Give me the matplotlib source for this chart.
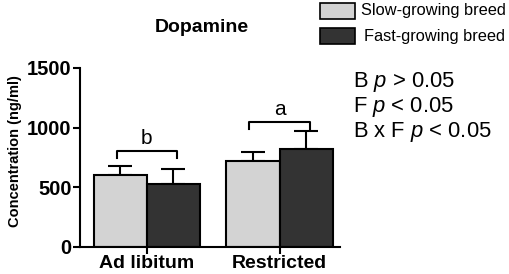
import matplotlib
matplotlib.use("Agg")
import matplotlib.pyplot as plt
from matplotlib.patches import Rectangle

plt.rcParams['font.family'] = ['Liberation Sans', 'DejaVu Sans']
plt.rcParams['mathtext.fontset'] = 'custom'
plt.rcParams['mathtext.rm'] = 'Liberation Sans'
plt.rcParams['mathtext.it'] = 'Liberation Sans:italic'

categories = ["Ad libitum", "Restricted"]
series_names = ["Slow-growing breed", "Fast-growing breed"]
slow_means = [603, 721]
slow_err = [76, 75]
fast_means = [528, 821]
fast_err = [126, 151]
group_letters = ["b", "a"]
bracket_heights = [804, 1047]
stats_lines = ["B $p$ > 0.05", "F $p$ < 0.05", "B x F $p$ < 0.05"]
yticks = [0, 500, 1000, 1500]

W, H = 510, 274
fig = plt.figure(figsize=(W/100, H/100), dpi=100)
ax = fig.add_axes([80/W, (H-247)/H, 260/W, 179/H])

centers = [0, 2.5]
bw = 1.0
colors = ["#d3d3d3", "#333333"]
for i, c in enumerate(centers):
    ax.bar(c - bw/2, slow_means[i], width=bw, color=colors[0], edgecolor="black", linewidth=1.5, zorder=2)
    ax.bar(c + bw/2, fast_means[i], width=bw, color=colors[1], edgecolor="black", linewidth=1.5, zorder=2)
    ax.errorbar(c - bw/2, slow_means[i], yerr=[[0], [slow_err[i]]], fmt='none', ecolor='black',
                elinewidth=1.5, capsize=8.5, capthick=1.5, zorder=1)
    ax.errorbar(c + bw/2, fast_means[i], yerr=[[0], [fast_err[i]]], fmt='none', ecolor='black',
                elinewidth=1.5, capsize=8.5, capthick=1.5, zorder=1)
    # bracket
    x1, x2 = c - 0.57, c + 0.57
    y = bracket_heights[i]
    ax.plot([x1, x1, x2, x2], [y - 55, y, y, y - 55], color='black', lw=1.5, clip_on=False)
    ax.text(c, y + 25, group_letters[i], ha='center', va='bottom', fontsize=15)

ax.set_xlim(-1.26, 3.64)
ax.set_ylim(0, 1500)
ax.set_yticks(yticks)
ax.set_yticklabels([str(t) for t in yticks], fontsize=14.5, fontweight='bold')
ax.set_xticks(centers)
ax.set_xticklabels(categories, fontsize=14, fontweight='bold')
for s in ['top', 'right']:
    ax.spines[s].set_visible(False)
for s in ['left', 'bottom']:
    ax.spines[s].set_linewidth(1.5)
ax.tick_params(axis='both', width=1.5, length=5, direction='out', pad=1)
ax.tick_params(axis='x', pad=1)
ax.set_ylabel("Concentration (ng/ml)", fontsize=10.5, fontweight='bold')
ax.yaxis.set_label_coords(-0.223, 0.535)

fig.text(202/W, 1 - 27/H, "Dopamine", ha='center', va='center', fontsize=14, fontweight='bold')

# legend
for j, name in enumerate(series_names):
    y0 = 3 + j * 25
    fig.patches.append(Rectangle((320/W, 1 - (y0 + 16)/H), 35/W, 16/H, transform=fig.transFigure,
                                 facecolor=colors[j], edgecolor='black', linewidth=1.2))
    fig.text((361 + 3*j)/W, 1 - (y0 + 8)/H, name, ha='left', va='center', fontsize=11.8)

for k, line in enumerate(stats_lines):
    fig.text(353/W, 1 - (82 + 25*k)/H, line, ha='left', va='center', fontsize=15.8)

fig.savefig("out.png", dpi=100)
